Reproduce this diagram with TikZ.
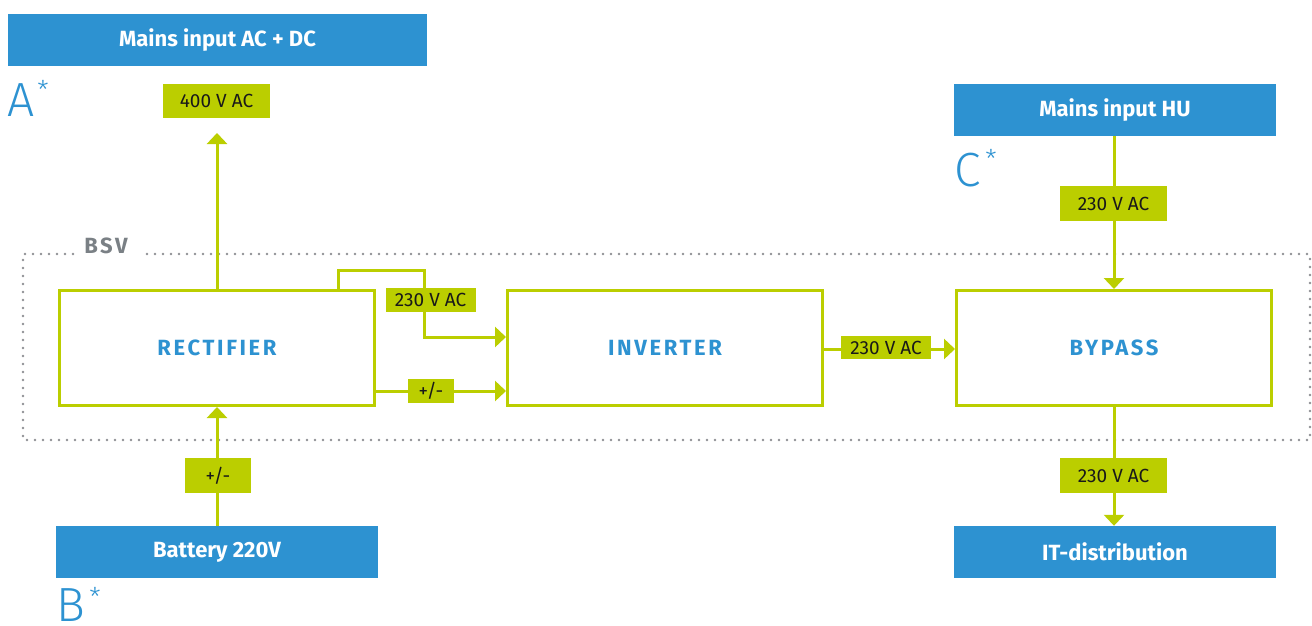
\documentclass[tikz,border=0pt]{standalone}
\usepackage{fontspec}
\setmainfont{Fira Sans}
\newfontfamily\spacedfont[LetterSpace=12]{Fira Sans}
\newfontfamily\lightfont{Fira Sans Light}
\usetikzlibrary{arrows.meta}
\definecolor{cblue}{HTML}{2D92D1}
\definecolor{clime}{HTML}{BBCE00}
\definecolor{cgray}{HTML}{7A8085}
\definecolor{cdot}{HTML}{8E9094}
\tikzset{
  bluebox/.style={fill=cblue, text=white, inner sep=0pt, font=\fontsize{22}{24}\selectfont\bfseries, minimum height=52pt},
  procbox/.style={draw=clime, line width=3pt, fill=white, inner sep=0pt, minimum width=315pt, minimum height=115pt, text=cblue, font=\fontsize{22}{24}\selectfont\spacedfont\bfseries},
  lbl/.style={fill=clime, inner sep=0pt, text=black!90, font=\fontsize{19}{21}\selectfont},
  conn/.style={draw=clime, line width=3pt},
  arr/.style={conn, -{Triangle[length=11pt,width=20pt]}},
  letter/.style={text=cblue, inner sep=0pt, anchor=base west, font=\fontsize{48}{50}\selectfont\lightfont},
  star/.style={text=cblue, inner sep=0pt, font=\fontsize{26}{28}\selectfont\lightfont},
  dotline/.style={draw=cdot, line width=2.6pt, line cap=round, dash pattern=on 0pt off 8pt},
}
\begin{document}
\begin{tikzpicture}[x=1pt, y=-1pt]
\useasboundingbox (0,0) rectangle (1312,626);
% dotted BSV frame
\draw[dotline] (73,254) -- (23,254) -- (23,440) -- (1310,440) -- (1310,254) -- (144,254);
\node[text=cgray, inner sep=0pt, font=\fontsize{22}{24}\selectfont\spacedfont\bfseries] (bsv) at (106,246) {BSV};
% blue boxes
\node[bluebox, minimum width=419pt] (mac) at (217.5,40) {Mains input AC + DC};
\node[bluebox, minimum width=322pt] (mhu) at (1115,110) {Mains input HU};
\node[bluebox, minimum width=322pt] (bat) at (217,552) {Battery 220V};
\node[bluebox, minimum width=322pt] (itd) at (1115,552) {IT-distribution};
% letters
\node[letter] (la) at (7,117) {A};
\node[star] (sa) at (43,90) {*};
\node[letter] (lc) at (954,186) {C};
\node[star] (sc) at (991,159) {*};
\node[letter] (lb) at (56,621) {B};
\node[star] (sb) at (95,597) {*};
% process boxes
\node[procbox] (rect) at (217,348) {RECTIFIER};
\node[procbox] (inv) at (665,348) {INVERTER};
\node[procbox] (byp) at (1114,348) {BYPASS};
\node[lbl, minimum width=107pt, minimum height=34pt] (l400) at (216.5,101) {400 V AC};
% connectors
\coordinate (up) at (217,133);
\draw[arr] (rect.north -| up) -- (up);
\draw[arr] (bat.north -| rect.south) -- (rect.south);
\coordinate (ra) at (338,270);
\coordinate (rb) at (424,270);
\coordinate (rc) at (424,337);
\draw[arr] (rect.north -| ra) -- (ra) -- (rb) -- (rc) -- (rc -| inv.west);
\coordinate (pm) at (376,391);
\draw[arr] (rect.east |- pm) -- (pm -| inv.west);
\coordinate (ib) at (824,349);
\draw[arr] (inv.east |- ib) -- (ib -| byp.west);
\coordinate (hx) at (1114,0);
\draw[arr] (mhu.south -| hx) -- (byp.north -| hx);
\draw[arr] (byp.south -| hx) -- (itd.north -| hx);
% labels on lines
\node[lbl, minimum width=107pt, minimum height=35pt] (lhu) at (1113.5,203.5) {230 V AC};
\node[lbl, minimum width=107pt, minimum height=35pt] (lit) at (1113.5,475.5) {230 V AC};
\node[lbl, minimum width=66pt, minimum height=35pt] (lbat) at (218,475.5) {+/-};
\node[lbl, minimum width=90pt, minimum height=24pt] (lac1) at (430.5,300) {230 V AC};
\node[lbl, minimum width=46pt, minimum height=24pt] (lpm) at (431,391) {+/-};
\node[lbl, minimum width=90pt, minimum height=23pt] (lac2) at (886,347.5) {230 V AC};
\end{tikzpicture}
\end{document}
